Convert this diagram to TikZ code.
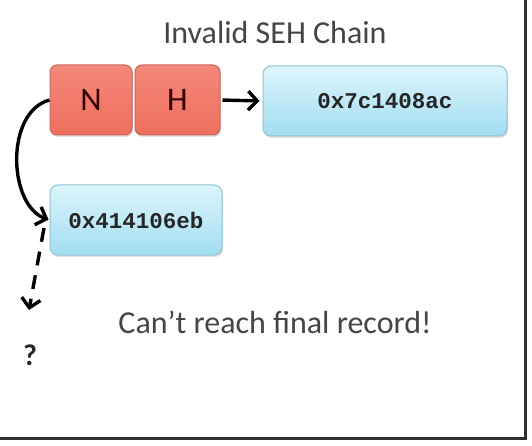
\documentclass[tikz,border=0pt]{standalone}
\usepackage{fontspec}
\setmainfont{Carlito}
\newfontfamily\codefont{Liberation Mono}
\usetikzlibrary{arrows.meta,shadows}
\definecolor{txtgray}{HTML}{454545}
\definecolor{redtop}{HTML}{F5887A}
\definecolor{redbot}{HTML}{EE6E5C}
\definecolor{redline}{HTML}{C8685A}
\definecolor{bluetop}{HTML}{DDF5FC}
\definecolor{bluebot}{HTML}{A2DDF1}
\definecolor{blueline}{HTML}{8EC3D3}
\definecolor{framecol}{HTML}{303030}
\tikzset{
  redbox/.style={draw=redline, line width=1pt, rounded corners=7pt,
    top color=redtop, bottom color=redbot, minimum height=70pt,
    font=\fontsize{33}{35}\selectfont, text=black!80!red,
    drop shadow={shadow xshift=1pt, shadow yshift=-2pt, opacity=0.25}},
  bluebox/.style={draw=blueline, line width=1pt, rounded corners=8pt,
    top color=bluetop, bottom color=bluebot, minimum height=70pt,
    font=\codefont\bfseries\fontsize{22.5}{25}\selectfont, text=black!85,
    drop shadow={shadow xshift=1pt, shadow yshift=-2pt, opacity=0.25}},
  arr/.style={line width=3.4pt, -{Straight Barb[length=9pt,width=19pt,line width=3.4pt]}},
  label/.style={font=\fontsize{32}{34}\selectfont, text=txtgray}
}
\begin{document}
\begin{tikzpicture}[x=1pt,y=-1pt]
\useasboundingbox (0,0) rectangle (532,446);
\fill[white] (0,0) rectangle (532,446);

\node[label] (title) at (275,33) {Invalid SEH Chain};
\node[redbox, minimum width=82pt] (N) at (91,100) {N};
\node[redbox, minimum width=85pt] (H) at (177.5,100) {H};
\node[bluebox, minimum width=244pt] (B1) at (385,101) {0x7c1408ac};
\node[bluebox, minimum width=172pt] (B2) at (136,220) {0x414106eb};
\node[label] (msg) at (275,322) {Can’t reach final record!};
\node[font=\bfseries\fontsize{30}{32}\selectfont, text=black!85] (Q) at (30,355) {?};

\draw[arr, shorten <=2pt, shorten >=3pt] (H.east) -- (B1.west);
\draw[arr, shorten >=1pt] (N.west) .. controls (5,112) and (8,205) .. (B2.west);
\coordinate (q0) at (44,228);
\coordinate (q1) at (29,310);
\draw[arr, dash pattern=on 14pt off 10pt] (q0) -- (q1);

\draw[line width=3pt, color=framecol] (525,0) -- (525,438) -- (0,438);
\end{tikzpicture}
\end{document}
